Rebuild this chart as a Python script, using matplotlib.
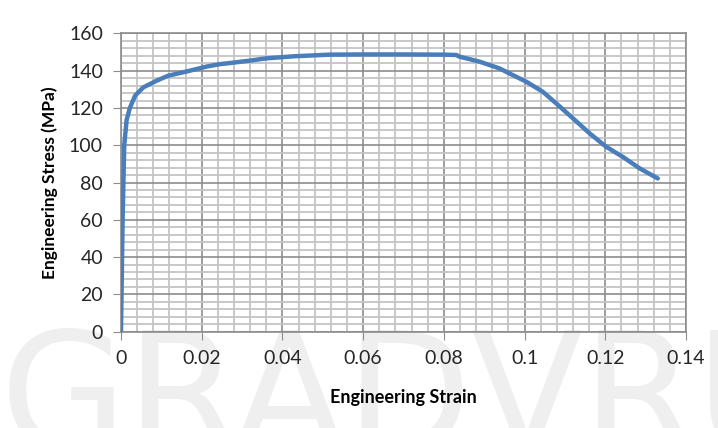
import matplotlib.pyplot as plt
from matplotlib.ticker import MultipleLocator

strain = [0, 0.0002, 0.0004, 0.0008, 0.0014, 0.0022, 0.0035, 0.0055, 0.0088,
          0.0117, 0.0171, 0.0212, 0.0245, 0.027, 0.032, 0.036, 0.0427, 0.0517,
          0.06, 0.07, 0.08, 0.0831, 0.0839, 0.0889, 0.0938, 0.0971, 0.1004,
          0.1045, 0.1078, 0.112, 0.1161, 0.1202, 0.1243, 0.1285, 0.133]
stress = [0, 30, 60, 100, 113.6, 120, 126.6, 131, 134.6,
          137.3, 140, 142.2, 143.5, 144.1, 145.4, 146.6, 147.7, 148.6,
          148.7, 148.7, 148.6, 148.4, 147.5, 144.8, 141.2, 137.6, 134.1,
          128.7, 122.5, 114.4, 106.4, 99.2, 93.8, 87.6, 82.2]

xticks = [0, 0.02, 0.04, 0.06, 0.08, 0.1, 0.12, 0.14]
xlabels = ['0', '0.02', '0.04', '0.06', '0.08', '0.1', '0.12', '0.14']
yticks = [0, 20, 40, 60, 80, 100, 120, 140, 160]

plt.rcParams['font.family'] = ['Lato', 'DejaVu Sans']

fig = plt.figure(figsize=(7.18, 4.28), dpi=100)
ax = fig.add_axes([0.1685, 0.225, 0.787, 0.697])

# faint watermark text, kept behind everything
fig.text(0.0, -0.13, 'GRAD', fontsize=118, color='#efefef', ha='left',
         va='bottom', zorder=-5, family='DejaVu Sans')
fig.text(0.655, -0.13, 'VRU', fontsize=118, color='#efefef', ha='left',
         va='bottom', zorder=-5, family='DejaVu Sans')

ax.plot(strain, stress, color='#4a7ebb', lw=3.2, solid_capstyle='round', zorder=3)

ax.set_xlim(0, 0.14)
ax.set_ylim(0, 160)
ax.set_xticks(xticks)
ax.set_xticklabels(xlabels)
ax.set_yticks(yticks)
ax.xaxis.set_minor_locator(MultipleLocator(0.004))
ax.yaxis.set_minor_locator(MultipleLocator(4))
ax.grid(which='major', color='#8c8c8c', lw=1.2, zorder=1)
ax.grid(which='minor', color='#c4c4c4', lw=1.3, zorder=1)
ax.set_axisbelow(True)
ax.set_facecolor('none')
ax.tick_params(which='major', direction='out', length=6, color='#8c8c8c',
               labelsize=14, pad=7, labelcolor='#262626')
ax.tick_params(which='minor', length=0)
for s in ax.spines.values():
    s.set_color('#8c8c8c')
    s.set_linewidth(1.2)

ax.set_xlabel('Engineering Strain', fontsize=13, fontweight='bold', labelpad=16)
ax.set_ylabel('Engineering Stress (MPa)', fontsize=12.5, fontweight='bold', labelpad=8)

fig.savefig('out.png', dpi=100)
